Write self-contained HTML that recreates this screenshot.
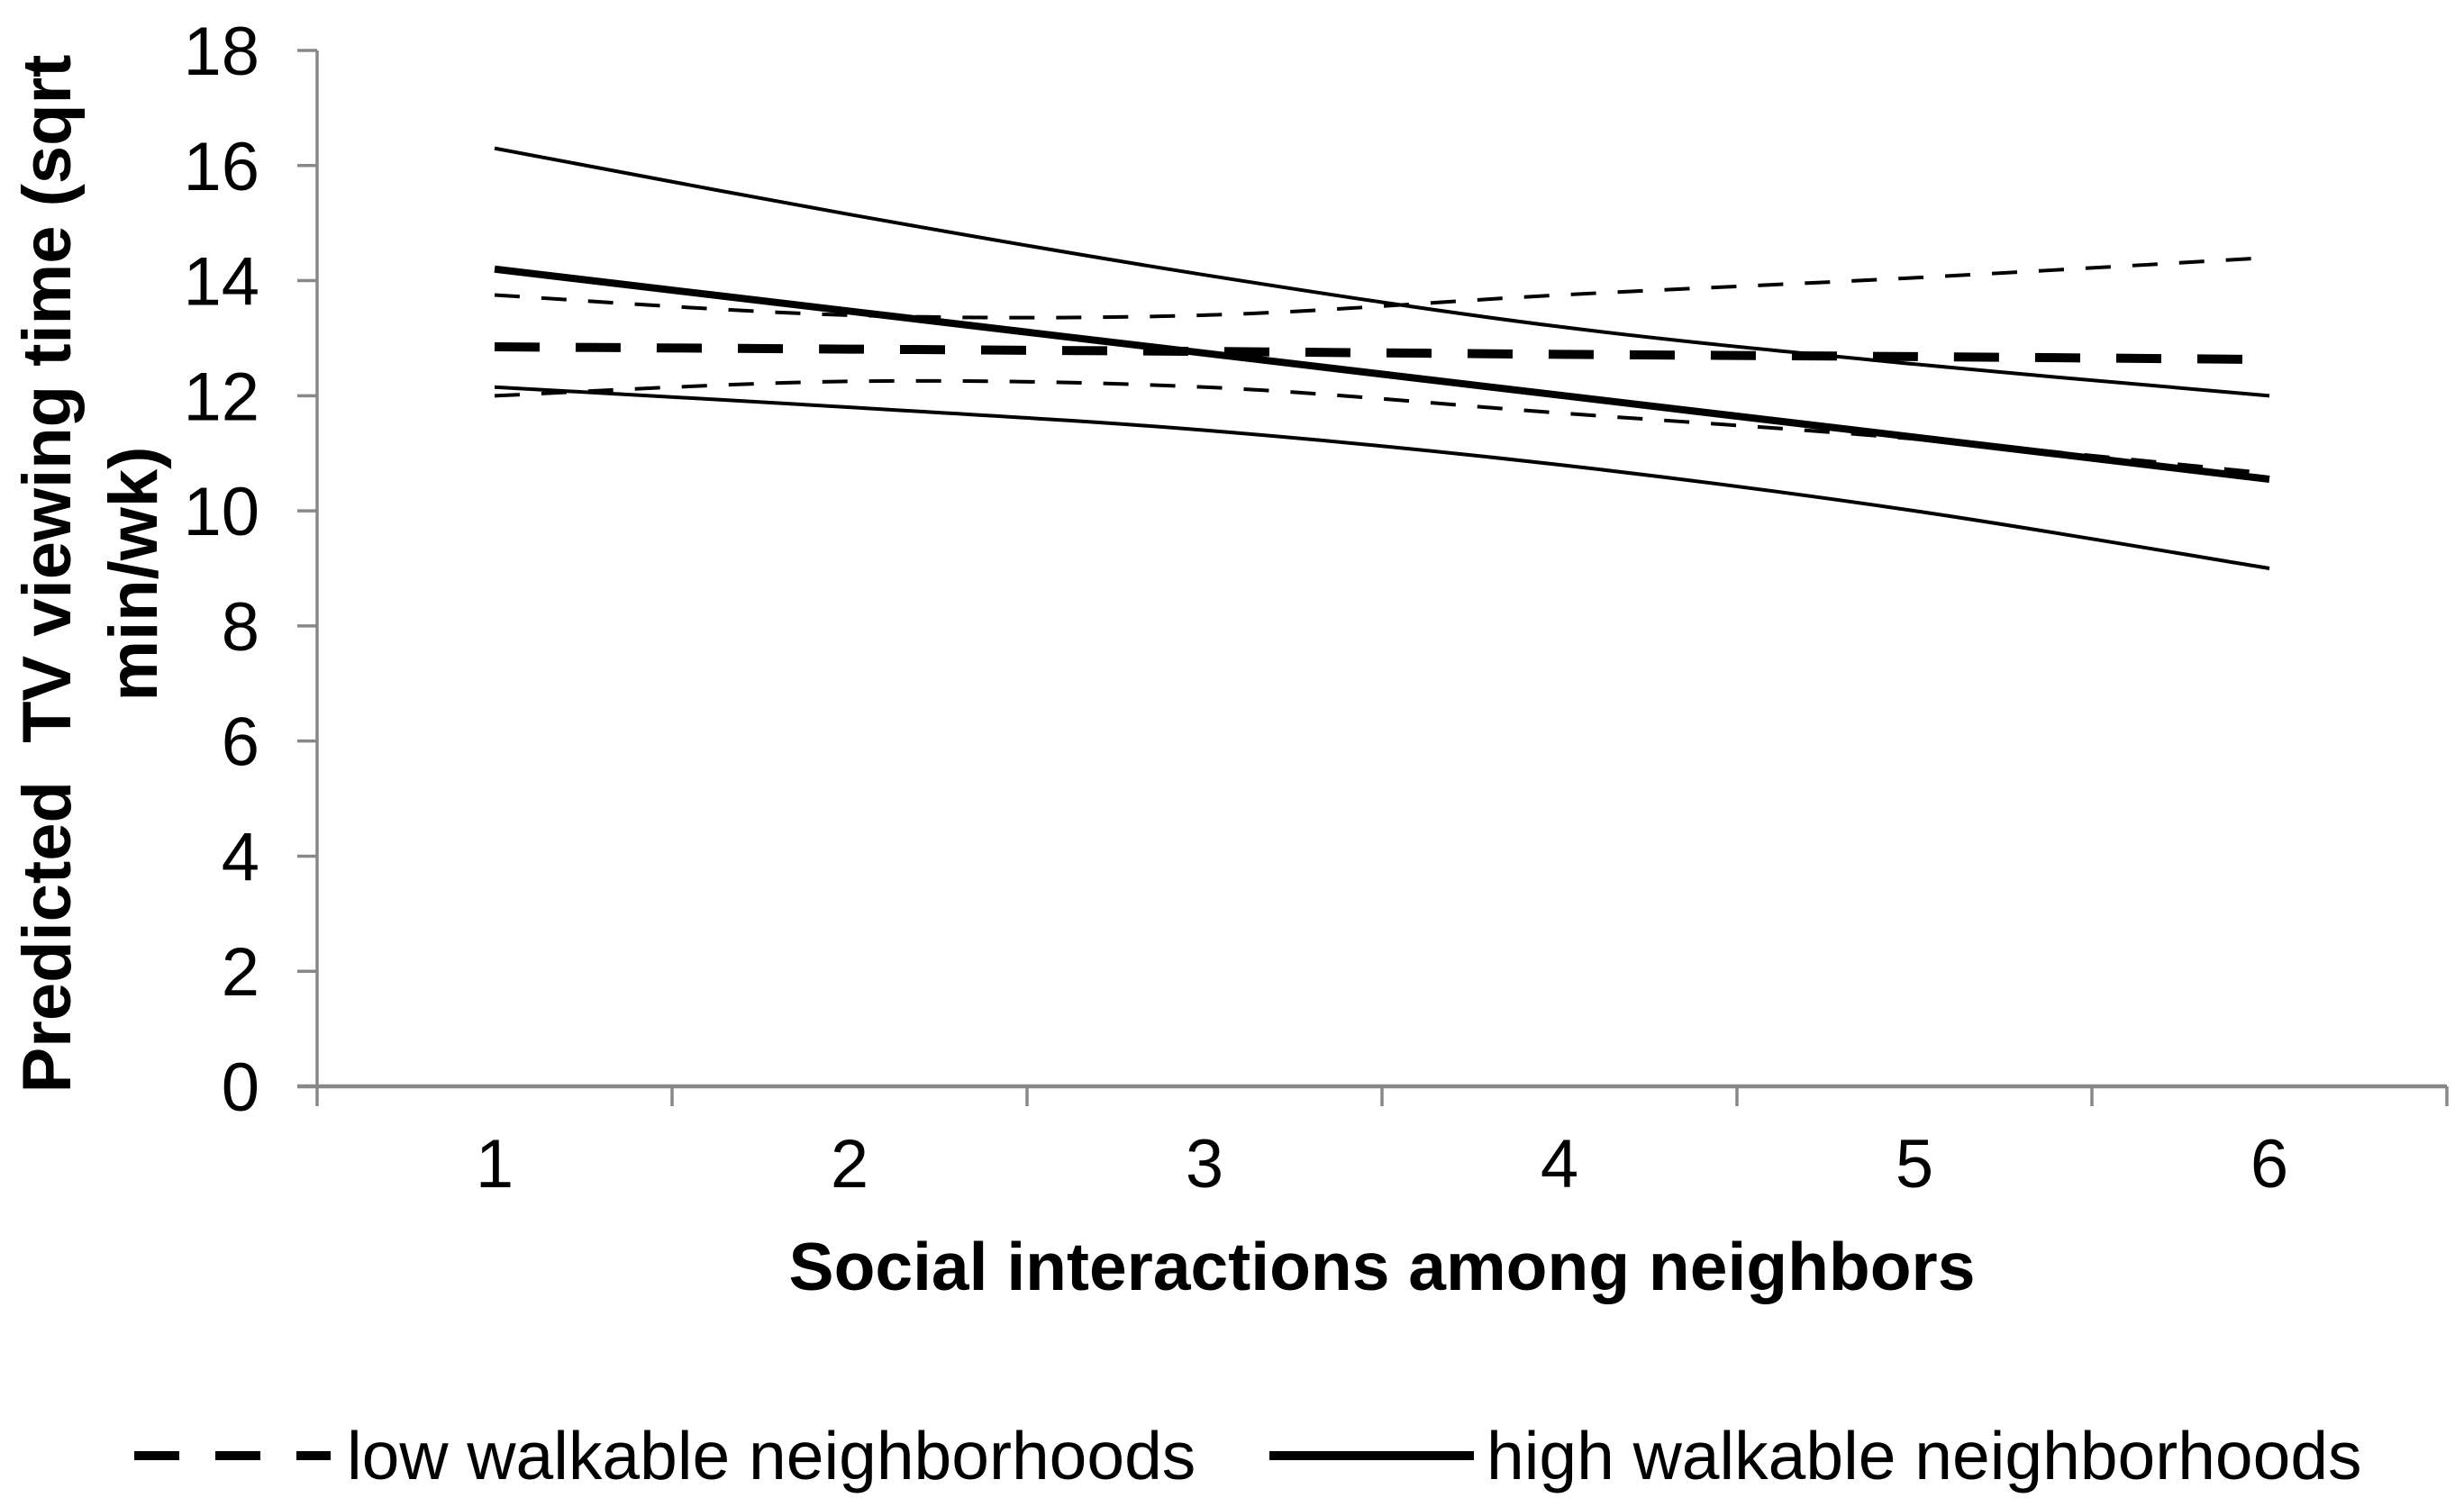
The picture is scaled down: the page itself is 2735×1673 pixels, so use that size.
<!DOCTYPE html>
<html><head><meta charset="utf-8"><style>
html,body{margin:0;padding:0;background:#fff;}
svg{display:block;}
text{font-family:"Liberation Sans",Arial,sans-serif;fill:#000;}
</style></head><body>
<svg id="chart" width="2735" height="1673" viewBox="0 0 2735 1673" xmlns="http://www.w3.org/2000/svg">
<g id="axes"></g>
<g id="series"></g>
<text x="1534" y="1432" font-size="75" font-weight="bold" text-anchor="middle">Social interactions among neighbors</text>
<g font-size="76" font-weight="bold" text-anchor="middle">
<text transform="translate(78,637) rotate(-90)">Predicted&#160; TV viewing time (sqrt</text>
<text transform="translate(174,637) rotate(-90)">min/wk)</text>
</g>
<g>
<g>
<line x1="149" y1="1616" x2="367" y2="1616" stroke="#000" stroke-width="10" stroke-dasharray="50,40"/>
<text x="385" y="1642" font-size="75">low walkable neighborhoods</text>
</g>
<g>
<line x1="1409" y1="1616" x2="1636" y2="1616" stroke="#000" stroke-width="10"/>
<text x="1650" y="1642" font-size="75">high walkable neighborhoods</text>
</g>
</g>
</svg>
<script>
const categories = [1, 2, 3, 4, 5, 6];
const yTicks = [0, 2, 4, 6, 8, 10, 12, 14, 16, 18];
const highMain = [14.2, 13.47, 12.74, 12.01, 11.28, 10.55];
const highUpper = [16.3, 15.15, 14.1, 13.2, 12.55, 12.0];
const highLower = [12.15, 11.8, 11.4, 10.8, 10.0, 9.0];
const lowMain = [12.85, 12.81, 12.77, 12.72, 12.68, 12.63];
const lowUpper = [13.75, 13.4, 13.4, 13.75, 14.05, 14.4];
const lowLower = [12.0, 12.25, 12.15, 11.7, 11.25, 10.65];

const NS = 'http://www.w3.org/2000/svg';
const X0 = 352, X1 = 2716, Y0 = 1206, Y1 = 56;
const band = (X1 - X0) / categories.length;
function xPos(i){ return X0 + band * (i + 0.5); }
function yPos(v){ return Y0 - (v - 0) / (18 - 0) * (Y0 - Y1); }
function mk(tag, attrs, parent){
  const el = document.createElementNS(NS, tag);
  for (const k in attrs) el.setAttribute(k, attrs[k]);
  parent.appendChild(el);
  return el;
}
const axes = document.getElementById('axes');
const series = document.getElementById('series');

let yl = mk('line', {x1:X0, y1:Y1, x2:X0, y2:Y0, stroke:'#888', 'stroke-width':3.5}, axes);


yTicks.forEach(t => {
  const y = yPos(t);
  const tk = mk('line', {x1:X0-22, y1:y, x2:X0, y2:y, stroke:'#888', 'stroke-width':3.5}, axes);
  
  
  const lb = mk('text', {x:288, y:y+27, 'font-size':76, 'text-anchor':'end'}, axes);
  lb.textContent = t;
  
  
});
let xl = mk('line', {x1:X0-22, y1:Y0, x2:X1, y2:Y0, stroke:'#888', 'stroke-width':4.5}, axes);


for (let i = 0; i <= categories.length; i++){
  const x = X0 + band * i;
  const tk = mk('line', {x1:x, y1:Y0, x2:x, y2:Y0+22, stroke:'#888', 'stroke-width':3.5}, axes);
  
  
}
categories.forEach((c, i) => {
  const lb = mk('text', {x:xPos(i), y:1318, 'font-size':76, 'text-anchor':'middle'}, axes);
  lb.textContent = c;
  
  
});

function smoothPath(vals){
  const p = vals.map((v, i) => [xPos(i), yPos(v)]);
  let d = 'M' + p[0][0] + ',' + p[0][1];
  for (let i = 0; i < p.length - 1; i++){
    const p0 = p[i-1] || p[i], p1 = p[i], p2 = p[i+1], p3 = p[i+2] || p[i+1];
    const c1 = [p1[0] + (p2[0]-p0[0])/6, p1[1] + (p2[1]-p0[1])/6];
    const c2 = [p2[0] - (p3[0]-p1[0])/6, p2[1] - (p3[1]-p1[1])/6];
    d += ' C' + c1[0] + ',' + c1[1] + ' ' + c2[0] + ',' + c2[1] + ' ' + p2[0] + ',' + p2[1];
  }
  return d;
}
function addLine(vals, width, dash, name){
  const attrs = {d: smoothPath(vals), fill:'none', stroke:'#000', 'stroke-width':width};
  if (dash) attrs['stroke-dasharray'] = dash;
  const el = mk('path', attrs, series);
  
  
}
addLine(highUpper, 4, null, 'high-walkable-upper-ci');
addLine(highLower, 4, null, 'high-walkable-lower-ci');
addLine(lowUpper, 4, '28,24', 'low-walkable-upper-ci');
addLine(lowLower, 4, '28,24', 'low-walkable-lower-ci');
addLine(lowMain, 10, '50,40', 'low-walkable-line');
addLine(highMain, 8, null, 'high-walkable-line');
</script>
</body></html>
